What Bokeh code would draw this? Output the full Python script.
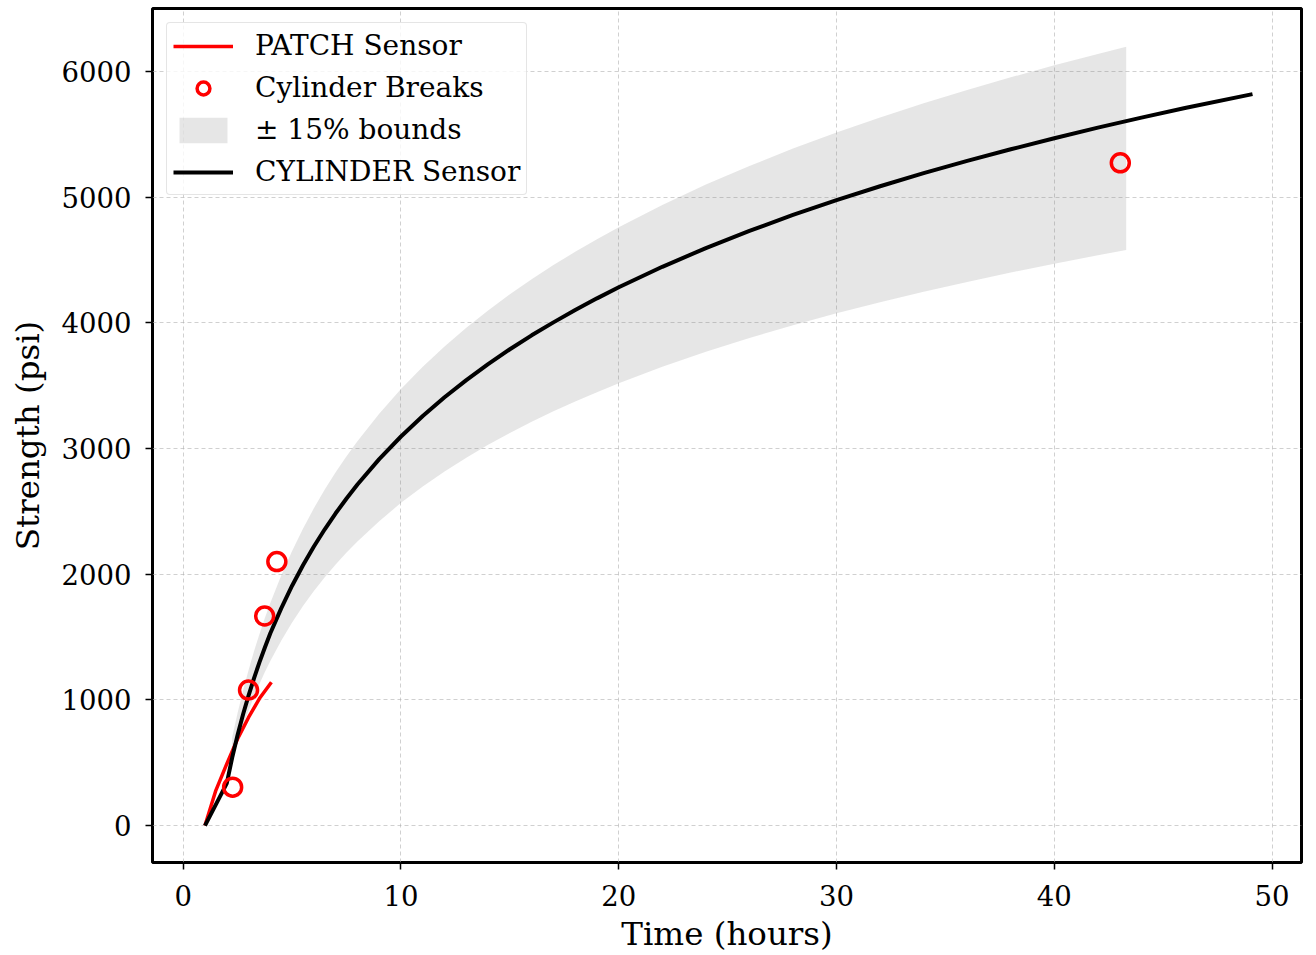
from bokeh.plotting import figure
from bokeh.models import Range1d, Legend, LegendItem, FixedTicker
from bokeh.embed import file_html
from bokeh.resources import INLINE

# ---- data ----
patch_t = [1.0, 1.5, 2.0, 2.5, 3.0, 3.5, 4.05]
patch_s = [0, 280, 490, 690, 860, 1010, 1140]

cyl_t = [1.0, 2.0, 2.25, 2.5, 2.75, 3.0, 3.25, 3.5, 3.75, 4.0, 4.5, 5.0, 5.5, 6.0, 6.5,
         7.0, 7.5, 8.0, 9.0, 10.0, 11.0, 12.0, 13.0, 14.0, 15.0, 16.0, 17.0, 18.0, 19.0,
         20.0, 22.0, 24.0, 26.0, 28.0, 30.0, 32.0, 34.0, 36.0, 38.0, 40.0, 42.0, 44.0,
         46.0, 49.1]
cyl_s = [0, 335, 541, 722, 885, 1034, 1171, 1298, 1416, 1530, 1728, 1908, 2071, 2220, 2357,
         2484, 2602, 2713, 2915, 3095, 3258, 3407, 3544, 3671, 3789, 3900, 4003, 4101, 4194,
         4282, 4445, 4594, 4731, 4858, 4976, 5086, 5190, 5288, 5380, 5468, 5552, 5632,
         5708, 5819]

break_t = [2.27, 3.0, 3.74, 4.3, 43.03]
break_s = [305, 1078, 1667, 2100, 5272]

band_t = [2.25, 2.5, 2.75, 3.0, 3.25, 3.5, 3.75, 4.0, 4.5, 5.0, 5.5, 6.0, 6.5, 7.0, 7.5,
          8.0, 9.0, 10.0, 11.0, 12.0, 13.0, 14.0, 15.0, 16.0, 17.0, 18.0, 19.0, 20.0,
          22.0, 24.0, 26.0, 28.0, 30.0, 32.0, 34.0, 36.0, 38.0, 40.0, 42.0, 43.3]
band_mid = [611, 781, 935, 1075, 1205, 1324, 1436, 1540, 1730, 1900, 2054, 2195, 2324,
            2444, 2555, 2659, 2849, 3020, 3174, 3314, 3443, 3563, 3675, 3779, 3877, 3969,
            4056, 4139, 4293, 4434, 4563, 4683, 4794, 4898, 4996, 5088, 5176, 5259, 5337,
            5387]
band_pct = 0.15

x_ticks = [0, 10, 20, 30, 40, 50]
y_ticks = [0, 1000, 2000, 3000, 4000, 5000, 6000]

FONT = "DejaVu Serif"

p = figure(width=1316, height=955, output_backend="svg", toolbar_location=None,
           x_range=Range1d(-1.41, 51.35), y_range=Range1d(-294, 6500),
           min_border_left=152, min_border_right=15, min_border_top=8, min_border_bottom=91)

p.background_fill_color = "white"
p.border_fill_color = "white"
p.outline_line_color = "black"
p.outline_line_width = 3

for ax in (p.xaxis[0], p.yaxis[0]):
    ax.axis_line_color = None
    ax.major_tick_line_color = "black"
    ax.major_tick_line_width = 1.5
    ax.major_tick_out = 7
    ax.major_tick_in = 0
    ax.minor_tick_line_color = None
    ax.major_label_text_font = FONT
    ax.major_label_text_font_size = "27.5px"
    ax.major_label_text_color = "black"
    ax.axis_label_text_font = FONT
    ax.axis_label_text_font_size = "32.5px"
    ax.axis_label_text_font_style = "normal"
    ax.axis_label_text_color = "black"

p.xaxis.major_label_standoff = 15
p.yaxis.major_label_standoff = 14
p.xaxis.ticker = FixedTicker(ticks=x_ticks)
p.yaxis.ticker = FixedTicker(ticks=y_ticks)
p.xaxis.axis_label = "Time (hours)"
p.yaxis.axis_label = "Strength (psi)"
p.xaxis.axis_label_standoff = 6
p.yaxis.axis_label_standoff = 12

p.grid.grid_line_color = "#b0b0b0"
p.grid.grid_line_alpha = 0.6
p.grid.grid_line_dash = "4 3"
p.grid.grid_line_width = 1

lower = [m * (1 - band_pct) for m in band_mid]
upper = [m * (1 + band_pct) for m in band_mid]
band = p.varea(x=band_t, y1=lower, y2=upper, fill_color="gray", fill_alpha=0.2)

patch_r = p.line(patch_t, patch_s, line_color="red", line_width=3.5)
cyl_r = p.line(cyl_t, cyl_s, line_color="black", line_width=4)
brk_r = p.scatter(break_t, break_s, marker="circle", size=18, fill_color=None,
                  line_color="red", line_width=3.5)

legend = Legend(items=[
    LegendItem(label="PATCH Sensor", renderers=[patch_r]),
    LegendItem(label="Cylinder Breaks", renderers=[brk_r]),
    LegendItem(label="\u00b1 15% bounds", renderers=[band]),
    LegendItem(label="CYLINDER Sensor", renderers=[cyl_r]),
], location="top_left")
legend.label_text_font = FONT
legend.label_text_font_size = "28px"
legend.label_text_color = "black"
legend.glyph_width = 60
legend.glyph_height = 32
legend.label_standoff = 22
legend.label_height = 32
legend.spacing = 9
legend.padding = 6
legend.margin = 14
legend.border_line_color = "#cccccc"
legend.border_line_width = 1.2
legend.border_radius = 4
legend.background_fill_alpha = 0.8
p.add_layout(legend, "center")

open("out.html", "w").write(file_html(p, INLINE))
